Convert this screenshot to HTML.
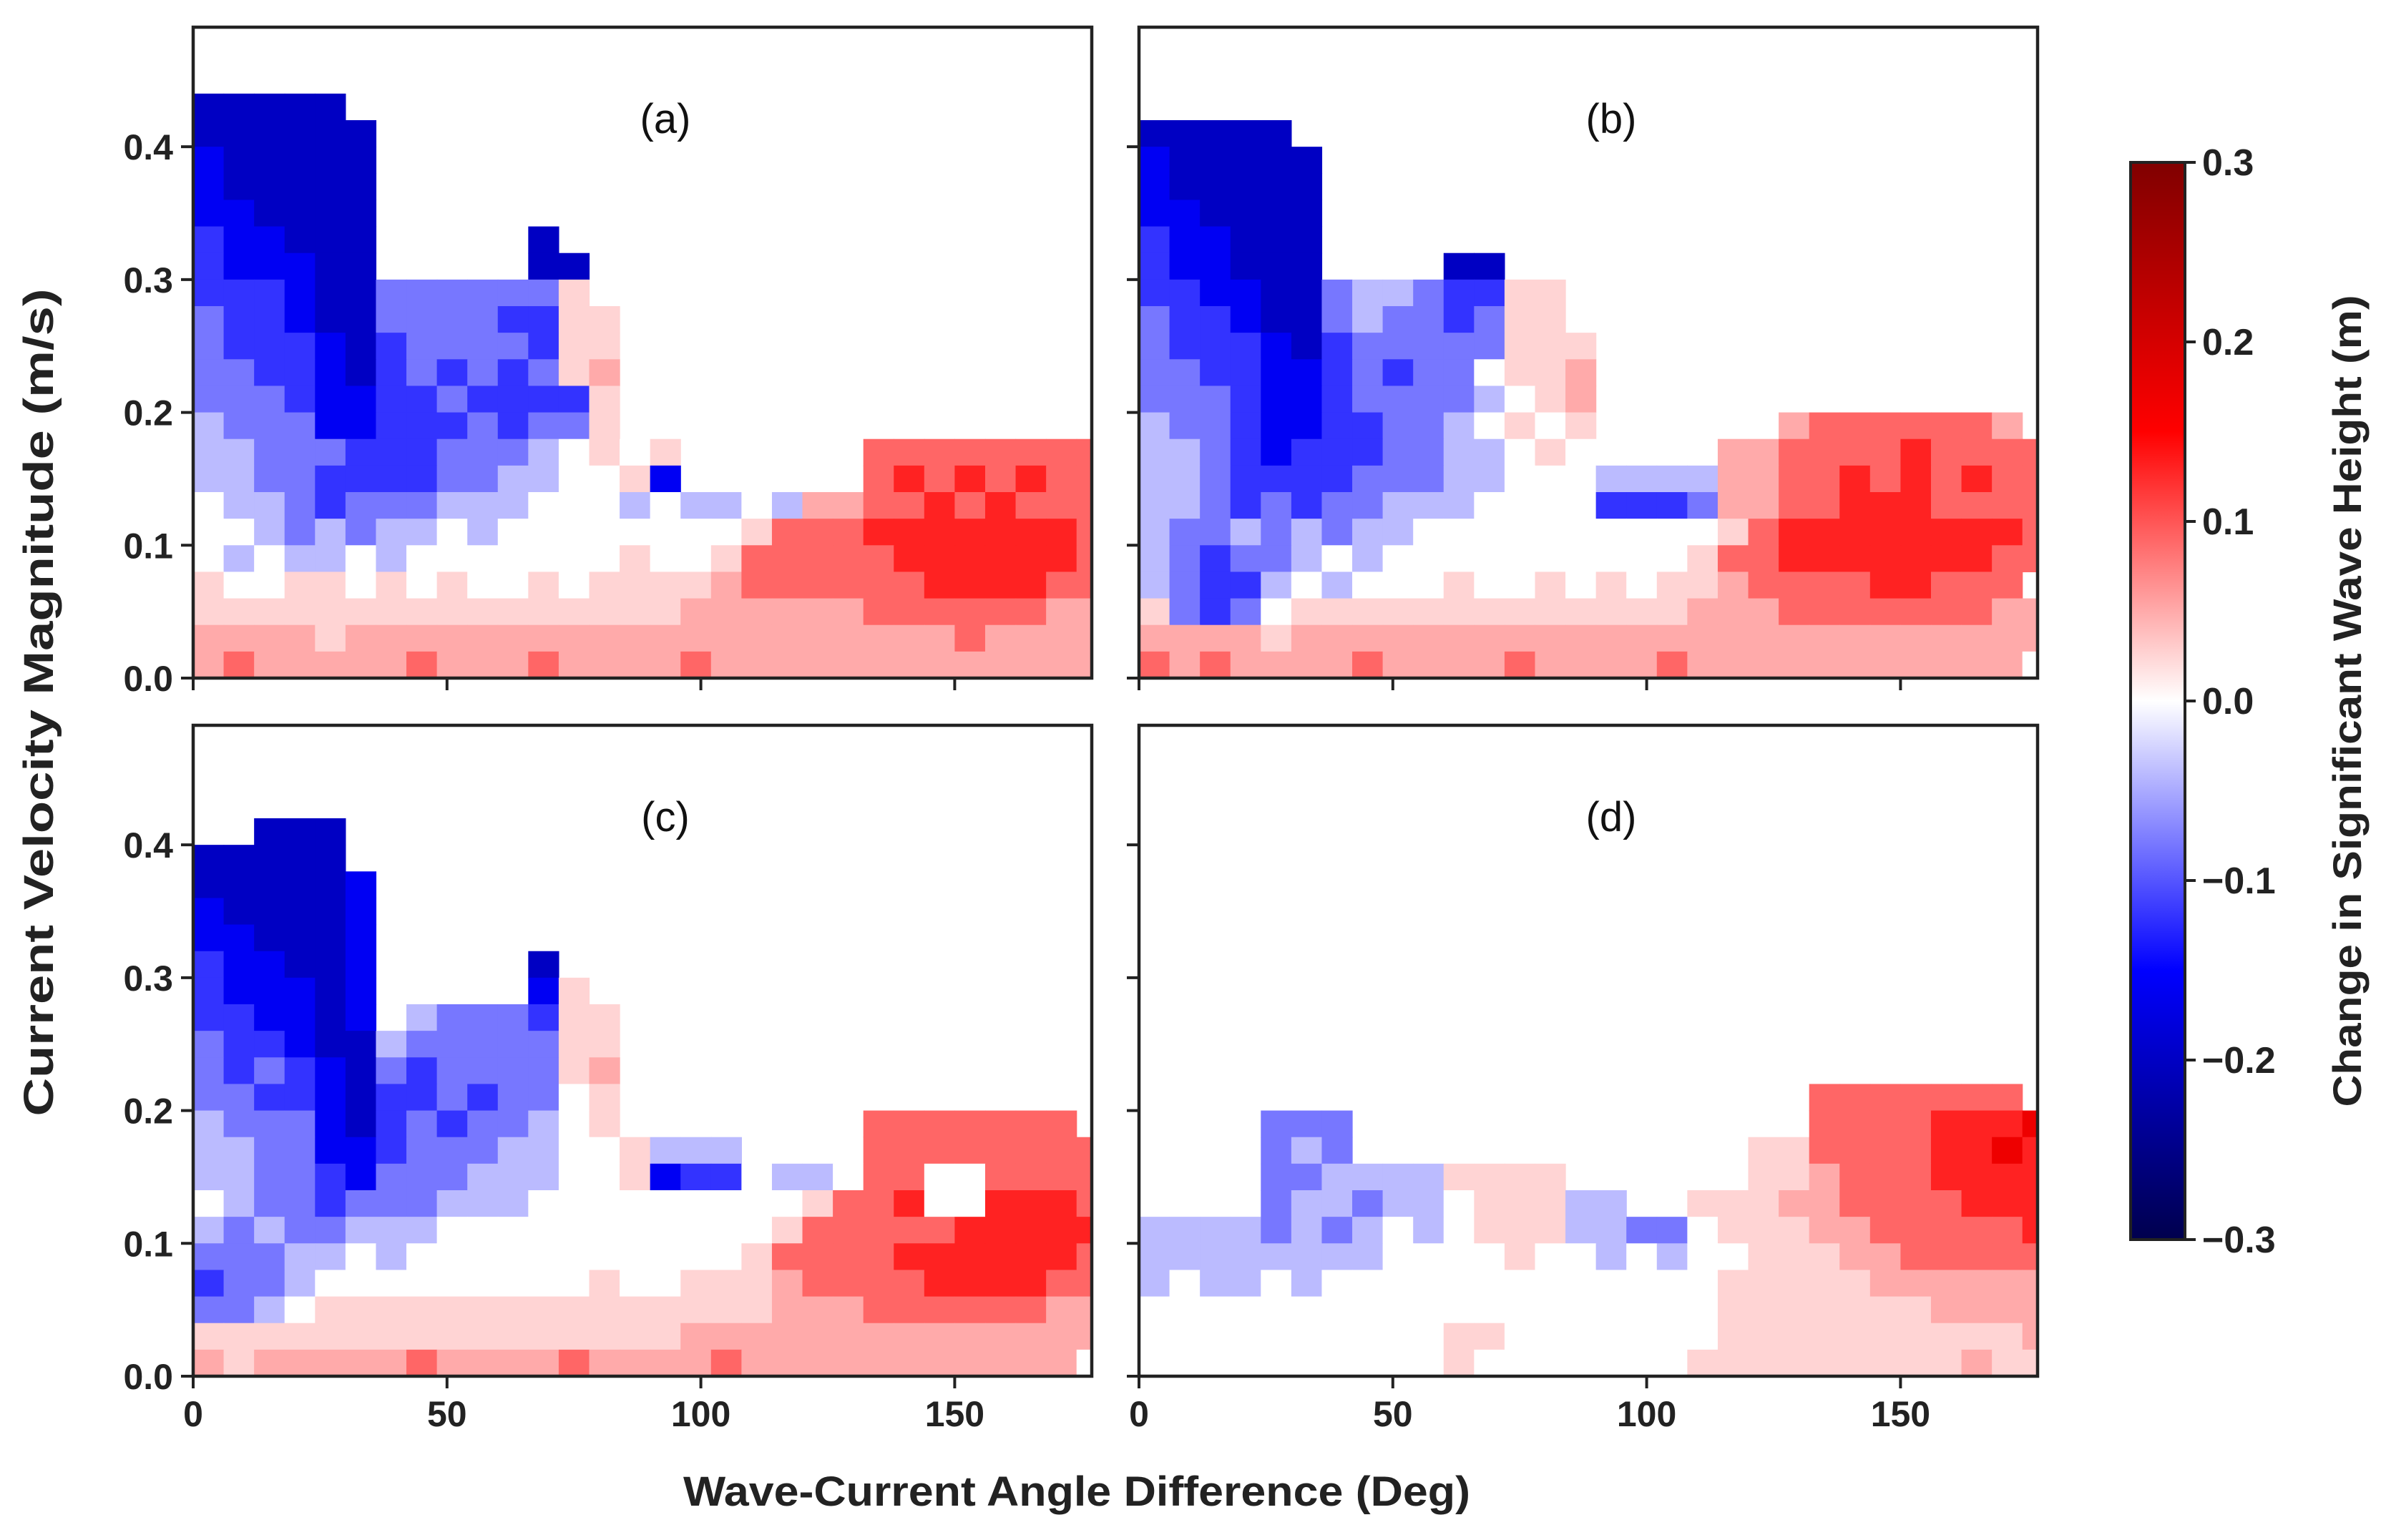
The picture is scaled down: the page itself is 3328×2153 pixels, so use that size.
<!DOCTYPE html>
<html><head><meta charset="utf-8">
<style>
html,body{margin:0;padding:0;background:#fff;}
svg{display:block;font-family:"Liberation Sans",sans-serif;}
</style></head>
<body>
<svg id="fig" width="3328" height="2153" viewBox="0 0 3328 2153" xmlns="http://www.w3.org/2000/svg">
<defs>
<linearGradient id="cbgrad" x1="0" y1="1" x2="0" y2="0">
<stop offset="0" stop-color="#00004d"/>
<stop offset="0.25" stop-color="#0000ff"/>
<stop offset="0.5" stop-color="#ffffff"/>
<stop offset="0.75" stop-color="#ff0000"/>
<stop offset="1" stop-color="#800000"/>
</linearGradient>
</defs>
</svg>
<script>
// Data: rows from top (v=0.48-0.50) to bottom (0.00-0.02), columns 6-deg bins from 0.
// '.' = no data; a..e negative, 0 neutral, 1..5 positive.
const panelLabels = ["(a)","(b)","(c)","(d)"];
const levelCodes = ["a","b","c","d","e","0","1","2","3","4","5"];
const levelValues = [-0.2,-0.16,-0.12,-0.08,-0.04,0,0.025,0.05,0.09,0.13,0.17];
const gridA = ["","","","aaaaa","aaaaaa","baaaaa","baaaaa","bbaaaa","cbbaaa.....a","cbbbaa.....aa",
"cccbaadddddd1","dccbaaddddcc11","dcccbacddddc11","ddccbacdcdcd12","dddcbbccdcccc1",
"edddbbcccdcdd1","eedddcccddde0101......33333333","eeddccccddee001b......34343433",
"0eedcdddeee000e0ee0e2233434333","00ededee0e00000000133344444443","0e0ee0e00000001001333334444443",
"100110101001011112333333444433","111111111111111122222233333322","222212222222222222222222232222","232222232223222232222222222222"];
const gridB = ["","","","","aaaaa","baaaaa","baaaaa","bbaaaa","cbbaaa","cbbaaa....aa",
"ccbbaadeedcc11","dccbaadeddcd11","dcccbacddddd111","ddccbbcdcdd0112","dddcbbcdddde012",
"eddcbbccdde0101......23333332","eedcbcccddee010....22333343333","eedccccdddee000eeee22334343433",
"eedcdcddeee0000cccd22334443333","eddededee00000000001344444444 3".replace(" ",""),"edcdde0e0000000000133444444433",
"edcce0e000100101011233334433 3".replace(" ",""),"1dcd01111111111111222333333322","222212222222222222222222222222","323222232222322223222222222220"];
const gridC = ["","","","","..aaa","aaaaa","aaaaab","baaaab","bbaaab","cbbaab.....a",
"cbbbab.....b1","ccbbab.edddc11","dccbaaeddddd11","dcdcbadcdddd12","ddccbaccdcdd01",
"edddbacdcdde01........3333333","eeddbbcdddee001eee....33333333","eeddcbdddeee001bcc0ee033003333",
"0eddcdddeee0000000001334004443","ededdeee000000000001333334 4444".replace(" ",""),"dddee0e0000000000013333444 4443".replace(" ",""),
"cdde0000000001001112333344 4433".replace(" ",""),"dde011111111111111122233333322","111111111111111122222222222222","212222232222322223222222222220"];
const gridD = ["","","","","","","","","","","","","","",
"......................3333333","....ddd...............33334445","....ded.............1133334454","....ddeeee1111......1123334444",
"....deedee0111ee..111223333444","eeeedede0e0111eedd011122333334","eeeeeeee0000100e0e001112233333",
"e0ee0e00000000000001111122222 2".replace(" ",""),"000000000000000000011111112222","000000000011000000011111111112","000000000010000000111111111211"];
const grids = [gridA,gridB,gridC,gridD];
const xTicks = [0,50,100,150];
const yTicks = [0.0,0.1,0.2,0.3,0.4];
const yTickLabels = ["0.0","0.1","0.2","0.3","0.4"];
const cbTicks = [-0.3,-0.2,-0.1,0.0,0.1,0.2,0.3];
const cbTickLabels = ["\u22120.3","\u22120.2","\u22120.1","0.0","0.1","0.2","0.3"];

const NS="http://www.w3.org/2000/svg";
const svg=document.getElementById('fig');
function mk(tag,attrs,parent){const e=document.createElementNS(NS,tag);for(const k in attrs)e.setAttribute(k,attrs[k]);(parent||svg).appendChild(e);return e;}

const PW=1256, PH=910, XMAX=177, YMAX=0.49;
const panelPos=[[270,38],[1592,38],[270,1014],[1592,1014]];
function seismic(v){
  let t=Math.max(-1,Math.min(1,v/0.3));
  let r,g,b;
  if(t<-0.5){const s=(t+1)/0.5;r=0;g=0;b=0.3+0.7*s;}
  else if(t<0){const s=(t+0.5)/0.5;r=s;g=s;b=1;}
  else if(t<0.5){const s=t/0.5;r=1;g=1-s;b=1-s;}
  else {const s=(t-0.5)/0.5;r=1-0.5*s;g=0;b=0;}
  return `rgb(${Math.round(r*255)},${Math.round(g*255)},${Math.round(b*255)})`;
}
grids.forEach((grid,p)=>{
  const [L,T]=panelPos[p];
  const xs=d=>L+d/XMAX*PW;
  const ys=v=>T+PH-v/YMAX*PH;
  const g=mk('g',{});
  
  
  const cp=mk('clipPath',{id:'clip'+p},g);
  mk('rect',{x:L,y:T,width:PW,height:PH},cp);
  const cells=mk('g',{'clip-path':`url(#clip${p})`},g);
  
  
  grid.forEach((row,r)=>{
    const vLow=0.48-0.02*r;
    const rowStr=row.padEnd(30,'.');
    for(let c=0;c<30;c++){
      const ch=rowStr[c];const idx=levelCodes.indexOf(ch);
      if(idx<0)continue;
      const x0=xs(c*6),x1=xs(c*6+6),y0=ys(vLow+0.02),y1=ys(vLow);
      const cell=mk('rect',{x:x0,y:y0,width:x1-x0+0.6,height:y1-y0+0.6,fill:seismic(levelValues[idx])},cells);
      
      
    }
  });
  const frame=mk('rect',{x:L,y:T,width:PW,height:PH,fill:'none',stroke:'#222','stroke-width':4.5},g);
  
  
  const lab=mk('text',{x:L+660,y:T+148,'font-size':58,'text-anchor':'middle',fill:'#111'},g);
  lab.textContent=panelLabels[p];
  
  
  xTicks.forEach(t=>{
    mk('line',{x1:xs(t),x2:xs(t),y1:T+PH,y2:T+PH+17,stroke:'#222','stroke-width':4},g);
    if(p>=2){const tl=mk('text',{x:xs(t),y:T+PH+70,'font-size':50,'font-weight':'bold','text-anchor':'middle',fill:'#222'},g);
      tl.textContent=String(t);
      
      }
  });
  yTicks.forEach((t,i)=>{
    mk('line',{x1:L-17,x2:L,y1:ys(t),y2:ys(t),stroke:'#222','stroke-width':4},g);
    if(p%2===0){const tl=mk('text',{x:L-28,y:ys(t)+18,'font-size':50,'font-weight':'bold','text-anchor':'end',fill:'#222'},g);
      tl.textContent=yTickLabels[i];
      
      }
  });
});
// axis titles
const yt=mk('text',{x:0,y:0,'font-size':58,'font-weight':'bold','text-anchor':'middle',fill:'#222',textLength:1157,lengthAdjust:'spacingAndGlyphs',transform:'translate(74,982) rotate(-90)'});
yt.textContent='Current Velocity Magnitude (m/s)';


const xt=mk('text',{x:1505,y:2105,'font-size':58,'font-weight':'bold','text-anchor':'middle',fill:'#222',textLength:1100,lengthAdjust:'spacingAndGlyphs'});
xt.textContent='Wave-Current Angle Difference (Deg)';


// colorbar
const CBL=2978,CBT=227,CBW=76,CBH=1506;
const cb=mk('rect',{x:CBL,y:CBT,width:CBW,height:CBH,fill:'url(#cbgrad)',stroke:'#222','stroke-width':4});


const cbY=v=>CBT+CBH-(v+0.3)/0.6*CBH;
cbTicks.forEach((t,i)=>{
  mk('line',{x1:CBL+CBW,x2:CBL+CBW+15,y1:cbY(t),y2:cbY(t),stroke:'#222','stroke-width':4});
  const tl=mk('text',{x:CBL+CBW+24,y:cbY(t)+18,'font-size':52,'font-weight':'bold',fill:'#222'});
  tl.textContent=cbTickLabels[i];
  
  
});
const ct=mk('text',{x:0,y:0,'font-size':56,'font-weight':'bold','text-anchor':'middle',fill:'#222',textLength:1135,lengthAdjust:'spacingAndGlyphs',transform:'translate(3300,980) rotate(-90)'});
ct.textContent='Change in Significant Wave Height (m)';


</script>
</body></html>
